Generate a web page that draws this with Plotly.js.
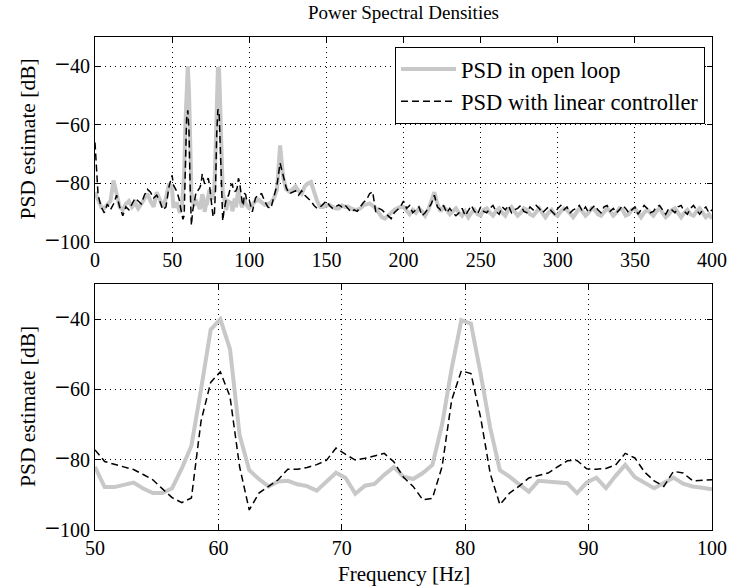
<!DOCTYPE html>
<html>
<head>
<meta charset="utf-8">
<script src="https://cdn.plot.ly/plotly-3.0.1.min.js"></script>
<style>html,body{margin:0;padding:0;background:#fff;}#chart{width:731px;height:588px;}</style>
</head>
<body>
<div id="chart"></div>
<script>
// ---- Data ----
// Frequency grids
const lowFreq = [0,2,4,6,8,10,12,14,16,18,20,22,24,26,28,30,32,34,36,38,40,42,44,46,48];
const fineBin = 0.78125; // Hz per bin
const fineBins = [64,65,66,67,68,69,70,71,72,73,74,75,76,77,78,79,80,81,82,83,84,85,86,87,88,89,90,91,92,93,94,95,96,
  97,98,99,100,101,102,103,104,105,106,107,108,109,110,111,112,113,114,115,116,117,118,119,120,121,122,123,124,125,126,127,128];
const highStart = 102, highStep = 2; // 102 .. 400 Hz

// PSD in open loop [dB]
const openLow = [-83,-86,-88,-88.5,-87,-86,-79,-84,-88,-89,-87,-86,-88,-86.5,-88.5,-87,-85,-83.5,-86,-88,-83,-86,-88,-85,-80];
const openFine = [-82.0,-87.8,-87.8,-87.2,-86.5,-88.2,-89.5,-89.5,-88.1,-82.5,-76,-60,-43,-40,-48.5,-73,-83,-85.5,-87.6,-86.2,
  -86,-87,-87.5,-88.8,-86.2,-83.7,-85.2,-89.7,-87.4,-86.9,-84.3,-82.1,-84.8,-85.5,-83.8,-81.5,-70,-54,-40.3,-41.3,
  -55.5,-71,-83,-84.8,-87.0,-89.1,-86.0,-86.2,-86.3,-86.7,-89.5,-86.5,-85.1,-88.1,-84.6,-81.5,-85.0,-86.6,-88.1,-86.6,
  -85.1,-86.8,-87.6,-88.0,-88.4];
const openHigh = [
  -87,-86,-85.5,-86.5,-87.3,-87,-86.5,-85,-82,-67,
  -78,-82,-82.8,-82,-81,-82.5,-83.5,-81,-80,-79.5,
  -82.8,-86,-88,-88,-87.5,-87.3,-88,-88.5,-88.5,-87.5,
  -88,-87.9,-88.5,-89,-89,-88.5,-87.5,-87,-86.8,-87.5,
  -88.5,-90,-91.5,-92,-91,-89.7,-89,-88.5,-88,-88,
  -89.5,-90.5,-89,-90,-88.5,-89.5,-91,-89,-86,-83,
  -87,-89.5,-88,-89,-90.5,-89.5,-88.5,-90,-91,-89.5,
  -91.5,-90,-89,-90.5,-91,-89,-88.5,-90,-91,-89.5,
  -88.5,-90,-91,-89,-88,-89.5,-91,-90,-88.5,-89,
  -90.5,-91,-89.5,-88.5,-90,-91.5,-90,-89,-90.5,-91,
  -89.5,-88.5,-89,-90.5,-91.5,-90,-88.5,-89.5,-91,-90,
  -88.5,-89,-90.5,-91,-89.5,-88.5,-89.5,-91,-90,-88.5,
  -89,-91,-90.5,-89,-88.5,-90,-91.5,-90,-89,-90,
  -91,-89.5,-88.5,-90,-91.5,-90.5,-89,-88.5,-90,-91.5,
  -90,-89,-90.5,-91,-89.5,-88.5,-90,-91.5,-90.5,-92];

// PSD with linear controller [dB]
const ctrlLow = [-66,-84,-88,-90,-87,-89,-87,-84,-88,-91,-88,-89,-87,-85,-86,-87,-84,-82,-83,-85,-84,-86,-89,-88,-81];
const ctrlFine = [-77.2,-80.5,-81.3,-82.0,-82.8,-84.2,-85.7,-88.3,-90.8,-92.2,-90.9,-69,-58,-55,-62,-82,-94.3,-89.5,-87.5,-85.7,
  -82.7,-82.7,-82.2,-81.4,-80.2,-76.7,-78.5,-80.1,-79.6,-78.9,-78.2,-80.6,-85,-87.6,-91.4,-91,-82,-63,-54.7,-55.5,
  -68,-84,-92.8,-89.5,-87.5,-85.2,-84.6,-83.8,-82,-80.3,-80.2,-82.6,-82.7,-82.5,-81.5,-78.2,-79.5,-83.5,-86,-87.6,
  -83.3,-83.8,-86,-85.8,-85.7];
const ctrlHigh = [
  -89.7,-85,-83.8,-83.5,-86,-88,-88.5,-84,-80.5,-73,
  -77,-81.5,-83.5,-83,-82.5,-84,-82.5,-84,-85,-86,
  -87.5,-88.5,-88,-87,-86,-87.5,-88.5,-88,-87.3,-88,
  -87.3,-88.5,-89.7,-89,-89.5,-88,-86.5,-85.6,-83.5,-82.8,
  -89.7,-88.5,-89,-90,-91,-92,-90,-89,-88,-86,
  -88.5,-87.5,-90,-89,-88,-91,-90,-88.5,-87,-84,
  -88,-89,-87.5,-90,-88.5,-90,-91,-90,-88.5,-91,
  -89,-87.5,-89.5,-90.5,-88,-89.5,-90,-88.5,-87.5,-89.5,
  -90.5,-88,-89,-87.5,-90,-89,-88.5,-87.5,-89.5,-90,
  -88,-89,-87.5,-88.5,-90,-89,-88,-89.5,-90.5,-88.5,
  -87.5,-89,-88,-90,-89,-88.5,-87.5,-89.5,-88,-90,
  -88.5,-87.5,-89,-90,-88,-87.5,-89.5,-88.5,-90,-89,
  -87.5,-88.5,-90,-89,-88,-90.5,-89,-87.5,-88.5,-90,
  -89.5,-88,-87.5,-89,-90.5,-88.5,-89,-90,-88,-87.5,
  -89.5,-90.5,-88.5,-87.5,-89,-90.5,-89,-88,-90,-89];

const yTicks = [-100,-80,-60,-40];
const topXTicks = [0,50,100,150,200,250,300,350,400];
const botXTicks = [50,60,70,80,90,100];
const names = ['PSD in open loop','PSD with linear controller'];

// ---- Build ----
const fineFreq = fineBins.map(k => k * fineBin);
const highFreq = openHigh.map((_, i) => highStart + i * highStep);
const topX = lowFreq.concat(fineFreq, highFreq);
const topOpen = openLow.concat(openFine, openHigh);
const topCtrl = ctrlLow.concat(ctrlFine, ctrlHigh);
const yTickText = yTicks.map(v => (v < 0 ? '<span style="font-size:27px">\u2212</span>' + Math.abs(v) : String(v)));

const FONT = '"Liberation Serif", "Times New Roman", Times, serif';
const grayLine = {color:'#c8c8c8', width:4};
const dashLine = {color:'#000000', width:1.5, dash:'7px,4px'};

const traces = [
  {x: topX, y: topOpen, type:'scatter', mode:'lines', name: names[0], line: grayLine, xaxis:'x', yaxis:'y'},
  {x: topX, y: topCtrl, type:'scatter', mode:'lines', name: names[1], line: dashLine, xaxis:'x', yaxis:'y'},
  {x: fineFreq, y: openFine, type:'scatter', mode:'lines', name: names[0], line: grayLine, xaxis:'x2', yaxis:'y2', showlegend:false},
  {x: fineFreq, y: ctrlFine, type:'scatter', mode:'lines', name: names[1], line: dashLine, xaxis:'x2', yaxis:'y2', showlegend:false}
];

function xax(range, ticks, anchor){
  return {range: range, tickvals: ticks, ticktext: ticks.map(String), anchor: anchor,
    showline:true, mirror:'ticks', linecolor:'#000', linewidth:1,
    ticks:'inside', ticklen:5, tickcolor:'#000', tickwidth:1,
    showgrid:true, gridcolor:'#000', griddash:'1px,4px', gridwidth:1, zeroline:false,
    tickfont:{family:FONT, size:20, color:'#000'}};
}
function yax(domain, anchor){
  return {range:[-100,-30], domain: domain, tickvals: yTicks, ticktext: yTickText, anchor: anchor,
    showline:true, mirror:'ticks', linecolor:'#000', linewidth:1,
    ticks:'inside', ticklen:5, tickcolor:'#000', tickwidth:1,
    showgrid:true, gridcolor:'#000', griddash:'1px,4px', gridwidth:1, zeroline:false,
    tickfont:{family:FONT, size:20, color:'#000'}};
}

const layout = {
  width:731, height:588,
  margin:{l:95, r:19, t:37, b:58},
  paper_bgcolor:'#fff', plot_bgcolor:'#fff',
  font:{family:FONT, color:'#000'},
  title:{text:'Power Spectral Densities', font:{family:FONT, size:19, color:'#000'},
    x:0.5, xref:'paper', y:1-12/588, yref:'container', yanchor:'middle'},
  xaxis: xax([0,400], topXTicks, 'y'),
  yaxis: yax([0.584, 1], 'x'),
  xaxis2: xax([50,100], botXTicks, 'y2'),
  yaxis2: yax([0, 0.499], 'x2'),
  showlegend:true,
  legend:{x:0.9887, xanchor:'right', y:0.98, yanchor:'top', bgcolor:'#fff',
    bordercolor:'#000', borderwidth:1, font:{family:FONT, size:22.5, color:'#000'},
    itemwidth:55, tracegroupgap:0},
  annotations:[
    {text:'PSD estimate [dB]', textangle:-90, xref:'paper', yref:'paper', x:(28-95)/617, y:0.792,
      xanchor:'center', yanchor:'middle', showarrow:false, font:{family:FONT, size:21.5, color:'#000'}},
    {text:'PSD estimate [dB]', textangle:-90, xref:'paper', yref:'paper', x:(28-95)/617, y:0.2495,
      xanchor:'center', yanchor:'middle', showarrow:false, font:{family:FONT, size:21.5, color:'#000'}},
    {text:'Frequency [Hz]', xref:'paper', yref:'paper', x:0.5, y:(530-574)/493,
      xanchor:'center', yanchor:'middle', showarrow:false, font:{family:FONT, size:21, color:'#000'}}
  ]
};

Plotly.newPlot('chart', traces, layout, {staticPlot:true, displayModeBar:false});
</script>
</body>
</html>
